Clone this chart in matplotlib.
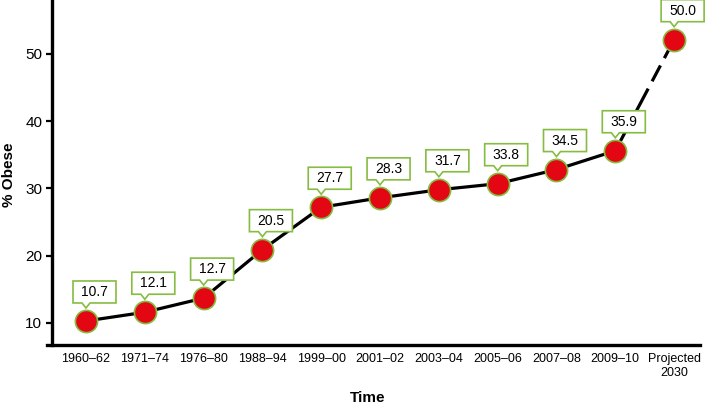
import matplotlib
matplotlib.use("Agg")
import matplotlib.pyplot as plt
from matplotlib.patches import Polygon
from matplotlib import transforms

plt.rcParams['font.family'] = ['Liberation Sans', 'DejaVu Sans']

# ---- data ----
periods = ["1960–62", "1971–74", "1976–80", "1988–94", "1999–00", "2001–02",
           "2003–04", "2005–06", "2007–08", "2009–10", "Projected\n2030"]
label_pct = [10.7, 12.1, 12.7, 20.5, 27.7, 28.3, 31.7, 33.8, 34.5, 35.9, 50.0]
# marker heights as drawn in the original graphic
drawn_pct = [10.3, 11.6, 13.7, 20.9, 27.2, 28.6, 29.8, 30.7, 32.8, 35.6, 52.1]
yticks = [10, 20, 30, 40, 50]

RED = "#e30613"
GREEN = "#86bc42"

W, H = 722, 407
AX_L, AX_R, AX_B = 47, 700, 345
fig = plt.figure(figsize=(W / 100, H / 100), dpi=100)
ax = fig.add_axes([AX_L / W, (H - AX_B) / H, (AX_R - AX_L) / W, AX_B / H])

x = list(range(len(periods)))

# solid part of the line
ax.plot(x[:-1], drawn_pct[:-1], color="black", lw=2.3, zorder=2,
        solid_capstyle="butt")
# projection: mostly solid, then broken into dashes
ax.plot(x[-2:], drawn_pct[-2:], color="black", lw=2.3, zorder=2,
        linestyle=(0, (22, 2.6, 5.6, 2.6, 30)), dash_capstyle="butt")
ax.plot(x, drawn_pct, linestyle="none", marker="o", markersize=16,
        markerfacecolor=RED, markeredgecolor=GREEN, markeredgewidth=1.2,
        zorder=3, clip_on=False)

# callouts (shape in inches at dpi=100, anchored at each data point)
px = 0.01
shape = [(-13 * px, 18 * px), (-4 * px, 18 * px), (0, 13 * px), (4 * px, 18 * px),
         (30 * px, 18 * px), (30 * px, 40 * px), (-13 * px, 40 * px)]
for xi, yi, lab in zip(x, drawn_pct, label_pct):
    tr = fig.dpi_scale_trans + transforms.ScaledTranslation(xi, yi, ax.transData)
    poly = Polygon(shape, closed=True, transform=tr, facecolor="white",
                   edgecolor=GREEN, lw=1.2, zorder=4, clip_on=False)
    ax.add_patch(poly)
    ax.text(8.5 * px, 29 * px, f"{lab:.1f}", transform=tr, ha="center",
            va="center", fontsize=10, zorder=5, clip_on=False)

ax.set_xlim(-0.663, 10.44)
ax.set_ylim(6.73, 58.0)
ax.spines["left"].set_position(("data", -0.578))
ax.set_yticks(yticks)
ax.set_xticks(x)
ax.set_xticklabels(periods, fontsize=9, linespacing=1.2)
ax.tick_params(axis="x", length=0, pad=6)
ax.tick_params(axis="y", length=4, width=1.6, labelsize=11, pad=3)

for s in ["top", "right"]:
    ax.spines[s].set_visible(False)
for s in ["left", "bottom"]:
    ax.spines[s].set_linewidth(2.4)

axw = AX_R - AX_L
ax.set_ylabel("% Obese", fontsize=11, fontweight="bold")
ax.yaxis.set_label_coords((9 - AX_L) / axw, (AX_B - 175) / AX_B)
ax.set_xlabel("Time", fontsize=11, fontweight="bold")
ax.xaxis.set_label_coords((368 - AX_L) / axw, (AX_B - 398) / AX_B)
ax.xaxis.label.set_va("center")
ax.yaxis.label.set_va("center")

fig.savefig("out.png", dpi=100)
